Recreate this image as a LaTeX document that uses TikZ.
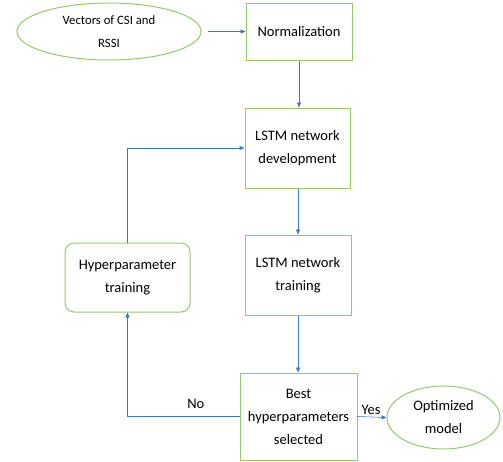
\documentclass[tikz,border=0pt]{standalone}
\usepackage{fontspec}
\setmainfont{Carlito}
\usetikzlibrary{shapes.geometric,arrows.meta}
\definecolor{bgreen}{RGB}{150,200,110}
\definecolor{ablue}{RGB}{68,114,196}
\begin{document}
\begin{tikzpicture}[x=1pt,y=-1pt,
  box/.style={draw=bgreen,line width=1pt,minimum width=#1,align=center,font=\fontsize{14.5}{23}\selectfont,inner sep=0pt},
  oval/.style={draw=bgreen,line width=1pt,ellipse,inner sep=0pt,align=center},
  lbl/.style={font=\fontsize{14.5}{17}\selectfont},
  conn/.style={draw=ablue,line width=0.6pt,-{Triangle[length=5pt,width=4pt]}}]
\useasboundingbox (0,0) rectangle (503,461);
\node[oval,minimum width=184pt,minimum height=57pt,font=\fontsize{12.7}{23}\selectfont] (vec) at (109,31.5) {Vectors of CSI and\\RSSI};
\node[box=106pt,minimum height=57pt] (norm) at (299,31.5) {Normalization};
\node[box=105pt,minimum height=80pt] (dev) at (297.5,148) {LSTM network\\development};
\node[box=106pt,minimum height=80pt] (train) at (298,275) {LSTM network\\training};
\node[box=117pt,minimum height=87pt] (best) at (298.5,416.5) {Best\\hyperparameters\\selected};
\node[oval,minimum width=113pt,minimum height=63pt,font=\fontsize{14.5}{23}\selectfont] (opt) at (443.5,417.5) {Optimized\\model};
\node[box=125pt,minimum height=69pt,rounded corners=9pt] (hyp) at (127.5,277.5) {Hyperparameter\\training};
\coordinate (vs) at (208,31.5);
\draw[conn] (vs) -- (norm.west);
\draw[conn] (norm.south) -- (norm.south |- dev.north);
\draw[conn] (dev.south -| train.north) -- (train.north);
\draw[conn] (train.south) -- (train.south |- best.north);
\draw[conn] (best.east) -- node[above,lbl,xshift=-1pt,yshift=-1pt] {Yes} (opt.west);
\draw[conn] (best.west) -- node[above,lbl,pos=0.39,yshift=4pt] {No} (hyp.south |- best.west) -- (hyp.south);
\draw[conn] (hyp.north) -- (hyp.north |- dev.west) -- (dev.west);
\end{tikzpicture}
\end{document}
